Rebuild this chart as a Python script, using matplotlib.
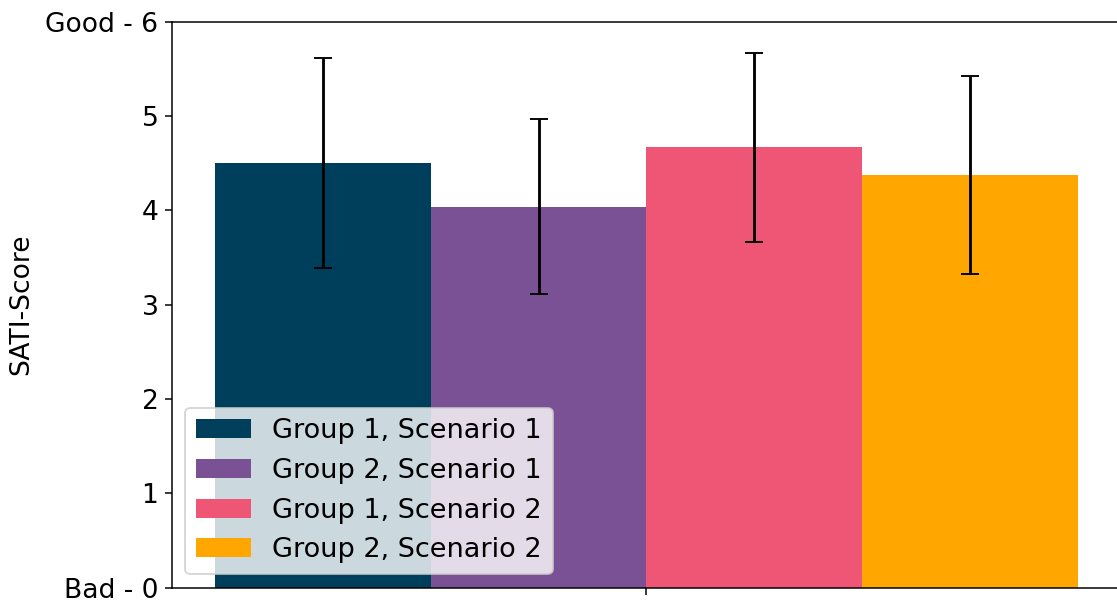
import matplotlib
matplotlib.use("Agg")
import matplotlib.pyplot as plt
import numpy as np

# SATI scores per group/scenario
labels = ["Group 1, Scenario 1", "Group 2, Scenario 1",
          "Group 1, Scenario 2", "Group 2, Scenario 2"]
means = [4.50, 4.04, 4.67, 4.375]
errors = [1.11, 0.93, 1.00, 1.045]
colors = ["#003f5c", "#7a5195", "#ef5675", "#ffa600"]
offsets = [-1.5, -0.5, 0.5, 1.5]
ytick_vals = [0, 1, 2, 3, 4, 5, 6]
ytick_labels = ["Bad - 0", "1", "2", "3", "4", "5", "Good - 6"]

plt.rcParams["font.size"] = 14
dpi = 136
fig = plt.figure(figsize=(1117 / dpi, 601 / dpi), dpi=dpi)
ax = fig.add_axes([0.1537, 0.0221, 0.8501, 0.9418])

for off, m, e, c, lab in zip(offsets, means, errors, colors, labels):
    ax.bar(off, m, width=1.0, color=c, label=lab,
           yerr=e, capsize=5, ecolor="black")

ax.set_xlim(-2.2, 2.2)
ax.set_ylim(0, 6)
ax.set_xticks([0])
ax.set_xticklabels([""])
ax.set_yticks(ytick_vals)
ax.set_yticklabels(ytick_labels)
ax.set_ylabel("SATI-Score", labelpad=6)
ax.legend(loc="lower left", fontsize=14.4)

fig.savefig("out.png", dpi=dpi)
